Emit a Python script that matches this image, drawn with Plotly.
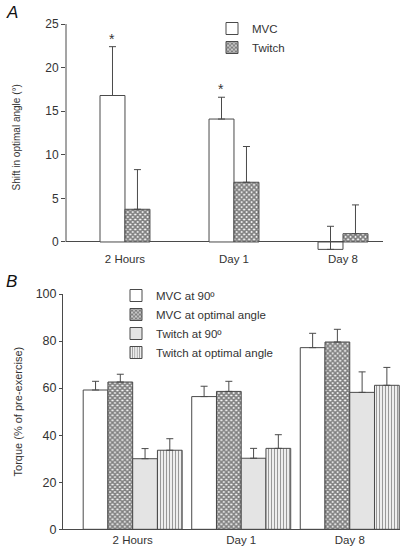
import plotly.graph_objects as go

# ---------- data ----------
categories = ["2 Hours", "Day 1", "Day 8"]

# Panel A: shift in optimal angle (deg)
shift_mvc = [16.8, 14.1, -0.85]
shift_mvc_err = [5.6, 2.5, 2.65]
shift_twitch = [3.75, 6.85, 0.95]
shift_twitch_err = [4.55, 4.1, 3.3]
signif_a = ["*", "*", ""]

# Panel B: torque (% of pre-exercise)
mvc90 = [59.2, 56.4, 77.2]
mvc90_err = [3.7, 4.4, 6.1]
mvc_opt = [62.6, 58.6, 79.6]
mvc_opt_err = [3.3, 4.3, 5.4]
tw90 = [30.0, 30.2, 58.2]
tw90_err = [4.3, 4.2, 8.7]
tw_opt = [33.6, 34.4, 61.2]
tw_opt_err = [4.9, 5.8, 7.6]

yticks_a = [0, 5, 10, 15, 20, 25]
yticks_b = [0, 20, 40, 60, 80, 100]

# ---------- style ----------
FONT = "Liberation Sans, Arial, sans-serif"
LINE = "#4a4a4a"
TXT = "#333333"
W = 400
H = 546

def err(arr):
    return dict(type="data", array=arr, arrayminus=[0] * len(arr), symmetric=False,
                color=LINE, thickness=1, width=3.5)

XPAT = dict(shape="x", fgcolor="#000000", bgcolor="white", size=3.5, solidity=0.75)
VPAT = dict(shape="|", fgcolor="#333333", bgcolor="white", size=3, solidity=0.45)

fig = go.Figure()

bwa = 0.229
fig.add_trace(go.Bar(x=categories, y=shift_mvc, name="MVC", width=bwa, offset=-bwa,
                     marker=dict(color="white", line=dict(color=LINE, width=1)),
                     error_y=err(shift_mvc_err), xaxis="x", yaxis="y", legend="legend"))
fig.add_trace(go.Bar(x=categories, y=shift_twitch, name="Twitch", width=bwa, offset=0,
                     marker=dict(color="white", line=dict(color=LINE, width=1), pattern=XPAT),
                     error_y=err(shift_twitch_err), xaxis="x", yaxis="y", legend="legend"))

bwb = 0.228
series_b = [
    ("MVC at 90º", mvc90, mvc90_err, dict(color="white", line=dict(color=LINE, width=1))),
    ("MVC at optimal angle", mvc_opt, mvc_opt_err,
     dict(color="white", line=dict(color=LINE, width=1), pattern=XPAT)),
    ("Twitch at 90º", tw90, tw90_err, dict(color="#e4e4e4", line=dict(color=LINE, width=1))),
    ("Twitch at optimal angle", tw_opt, tw_opt_err,
     dict(color="white", line=dict(color=LINE, width=1), pattern=VPAT)),
]
for i, (nm, vals, e, mk) in enumerate(series_b):
    fig.add_trace(go.Bar(x=categories, y=vals, name=nm, width=bwb, offset=-2 * bwb + i * bwb,
                         marker=mk, error_y=err(e), xaxis="x2", yaxis="y2", legend="legend2"))

# significance stars
for c, v, e, s in zip(categories, shift_mvc, shift_mvc_err, signif_a):
    if s:
        fig.add_annotation(x=c, y=v + e, xref="x", yref="y", text=s, showarrow=False,
                           xshift=-bwa * 109 / 2, yanchor="bottom", yshift=-2,
                           font=dict(family=FONT, size=14, color=TXT))

# y-axis line for panel A (only from 0 to 25)
fig.add_shape(type="line", xref="x domain", yref="y", x0=0, x1=0, y0=0, y1=25,
              line=dict(color=LINE, width=1))

xtickfont = dict(family=FONT, size=11.5, color=TXT)

fig.update_layout(
    width=W, height=H, margin=dict(l=0, r=0, t=0, b=0),
    plot_bgcolor="white", paper_bgcolor="white",
    barmode="overlay", showlegend=True,
    font=dict(family=FONT, color=TXT),
    xaxis=dict(domain=[66 / W, 383 / W], range=[-0.541, 2.367], type="category",
               showline=False, showgrid=False, zeroline=False, ticks="",
               anchor="y", tickfont=xtickfont, automargin=False),
    yaxis=dict(domain=[(H - 250.7) / H, (H - 24) / H], range=[-1.0, 25], tickvals=yticks_a,
               showline=False, showgrid=False, zeroline=True, zerolinecolor=LINE, zerolinewidth=1,
               ticks="outside", ticklen=4, tickcolor=LINE, anchor="x",
               tickfont=dict(family=FONT, size=12, color=TXT), automargin=False,
               title=dict(text="Shift in optimal angle (°)", font=dict(family=FONT, size=10, color=TXT),
                          standoff=22)),
    xaxis2=dict(domain=[63 / W, 1.0], range=[-0.642, 2.463], type="category",
                showline=True, linecolor=LINE, linewidth=1, showgrid=False, zeroline=False,
                ticks="", anchor="y2", tickfont=xtickfont, automargin=False),
    yaxis2=dict(domain=[(H - 529.3) / H, (H - 294) / H], range=[0, 100], tickvals=yticks_b,
                showline=True, linecolor=LINE, linewidth=1, showgrid=False, zeroline=False,
                ticks="outside", ticklen=3, tickcolor=LINE, anchor="x2",
                tickfont=dict(family=FONT, size=12.5, color=TXT), automargin=False,
                title=dict(text="Torque (% of pre-exercise)", font=dict(family=FONT, size=11, color=TXT),
                           standoff=10)),
    legend=dict(x=212 / W, y=1 - 14 / H, xanchor="left", yanchor="top",
                font=dict(family=FONT, size=11.5, color=TXT), itemwidth=30,
                bgcolor="rgba(0,0,0,0)", tracegroupgap=0),
    legend2=dict(x=116 / W, y=1 - 281 / H, xanchor="left", yanchor="top",
                 font=dict(family=FONT, size=11.5, color=TXT), itemwidth=30,
                 bgcolor="rgba(0,0,0,0)", tracegroupgap=0),
)

fig.add_annotation(x=4 / W, y=1 - 1 / H, xref="paper", yref="paper", xanchor="left", yanchor="top",
                   text="<i>A</i>", showarrow=False, font=dict(family=FONT, size=17, color="#111"))
fig.add_annotation(x=4 / W, y=1 - 270 / H, xref="paper", yref="paper", xanchor="left", yanchor="top",
                   text="<i>B</i>", showarrow=False, font=dict(family=FONT, size=17, color="#111"))

fig.write_html("out.html", config={"displayModeBar": False},
               post_script="document.body.style.margin='0';document.body.style.overflow='hidden';")
